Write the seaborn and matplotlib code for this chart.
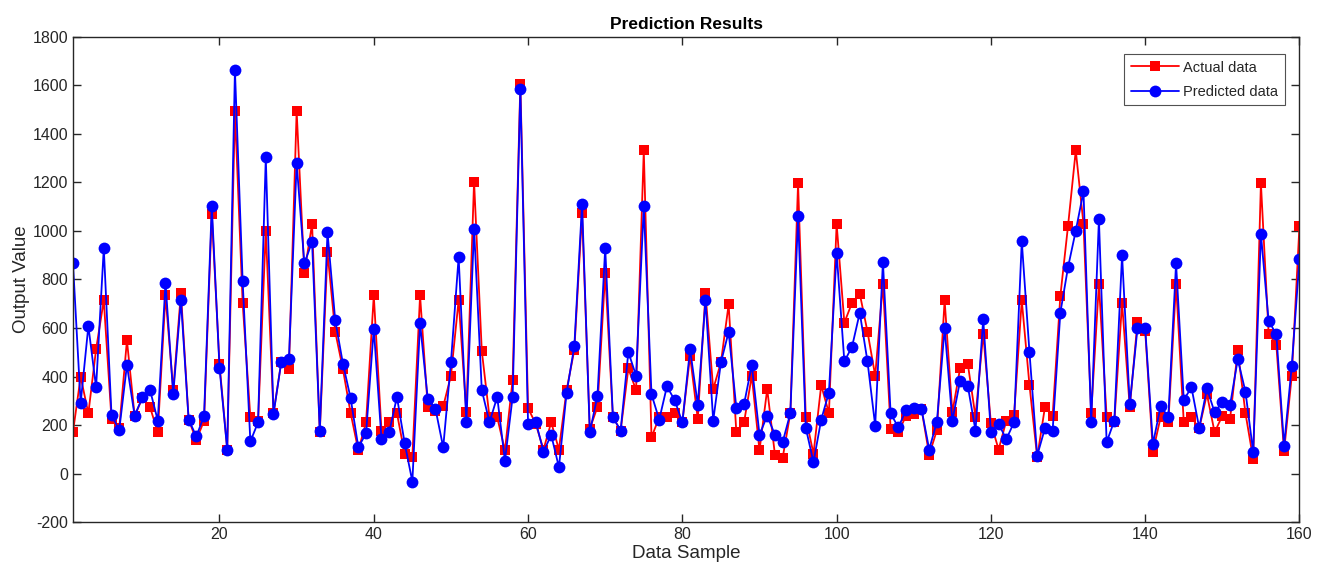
import numpy as np
import pandas as pd
import matplotlib
matplotlib.use("Agg")
import matplotlib.pyplot as plt
import seaborn as sns

samples = list(range(1, 161))

actual = [
    170, 399, 248, 512, 714, 225, 186, 549, 238, 310,
    273, 170, 734, 344, 745, 222, 138, 218, 1070, 451,
    99, 1495, 704, 232, 215, 1001, 249, 458, 430, 1495,
    827, 1029, 170, 912, 585, 430, 249, 95, 211, 734,
    177, 211, 249, 81, 67, 734, 273, 259, 277, 403,
    715, 252, 1204, 506, 232, 232, 95, 386, 1606, 270,
    204, 99, 211, 99, 345, 510, 1074, 184, 275, 827,
    232, 177, 433, 344, 1332, 149, 232, 232, 249, 211,
    485, 225, 743, 348, 458, 697, 170, 211, 403, 95,
    348, 78, 64, 249, 1197, 232, 81, 364, 249, 1029,
    622, 704, 741, 585, 403, 782, 184, 170, 238, 245,
    266, 77, 179, 714, 252, 433, 453, 234, 577, 207,
    99, 218, 241, 714, 364, 67, 273, 238, 732, 1022,
    1332, 1029, 249, 782, 234, 214, 704, 273, 625, 588,
    90, 232, 211, 782, 211, 232, 186, 327, 170, 238,
    225, 508, 248, 60, 1197, 577, 530, 92, 403, 1022,
]

predicted = [
    869, 290, 608, 355, 929, 242, 179, 447, 238, 314,
    344, 218, 786, 327, 715, 222, 153, 238, 1104, 437,
    99, 1663, 793, 132, 211, 1303, 245, 458, 471, 1280,
    866, 955, 177, 995, 632, 453, 310, 108, 166, 597,
    142, 170, 316, 126, -33, 619, 307, 266, 108, 458,
    892, 211, 1010, 344, 211, 316, 53, 316, 1585, 204,
    214, 90, 159, 26, 334, 526, 1112, 170, 321, 930,
    232, 177, 501, 403, 1101, 327, 222, 359, 303, 211,
    512, 284, 715, 218, 458, 584, 270, 286, 447, 160,
    238, 160, 129, 249, 1060, 188, 47, 222, 334, 910,
    462, 523, 663, 462, 197, 873, 248, 190, 262, 270,
    266, 99, 214, 599, 218, 382, 362, 177, 636, 170,
    204, 142, 211, 958, 499, 74, 186, 177, 663, 851,
    1001, 1163, 211, 1049, 129, 218, 900, 286, 599, 599,
    122, 277, 234, 866, 304, 355, 188, 351, 252, 296,
    282, 471, 337, 88, 988, 629, 574, 115, 444, 885,
]

x_ticks = [20, 40, 60, 80, 100, 120, 140, 160]
y_ticks = list(range(-200, 1801, 200))

df = pd.DataFrame({"sample": samples, "actual": actual, "predicted": predicted})

sns.set_theme(style="ticks")
plt.rcParams["font.family"] = ["Liberation Sans", "DejaVu Sans"]
plt.rcParams["axes.unicode_minus"] = False

fig = plt.figure(figsize=(13.26, 5.83), dpi=100)
ax = fig.add_axes([0.055, 0.1046, 0.925, 0.832])

sns.lineplot(data=df, x="sample", y="actual", ax=ax, color="#ff0000",
             marker="s", markersize=6.5, markeredgewidth=0, linewidth=1.3,
             label="Actual data")
sns.lineplot(data=df, x="sample", y="predicted", ax=ax, color="#0000ff",
             marker="o", markersize=8.5, markeredgewidth=0, linewidth=1.3,
             label="Predicted data")

ax.set_xlim(1, 160)
ax.set_ylim(-200, 1800)
ax.set_xticks(x_ticks)
ax.set_yticks(y_ticks)
ax.tick_params(direction="in", top=True, right=True, length=6, width=1,
               labelsize=11.5, colors="#262626", labelcolor="#262626")
for s in ax.spines.values():
    s.set_linewidth(1)
    s.set_color("#262626")

ax.set_title("Prediction Results", fontsize=12.5, fontweight="bold", color="black", pad=6)
ax.set_xlabel("Data Sample", fontsize=13.5, color="#262626", labelpad=2)
ax.set_ylabel("Output Value", fontsize=13.5, color="#262626", labelpad=2)

leg = ax.legend(loc="upper right", bbox_to_anchor=(0.988, 0.965), borderaxespad=0,
                fontsize=10.5, frameon=True, fancybox=False, edgecolor="#262626",
                handlelength=3.3, borderpad=0.45, labelspacing=0.7, handletextpad=0.3)
leg.get_frame().set_linewidth(0.8)

fig.savefig("out.png", dpi=100)
